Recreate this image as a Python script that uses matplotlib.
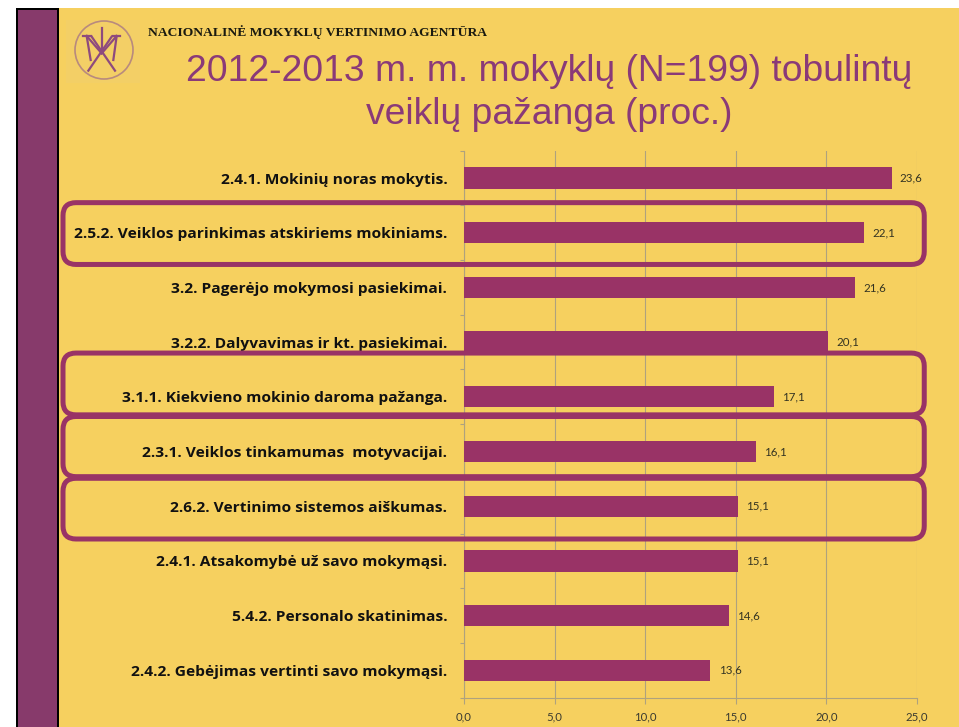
import numpy as np
import matplotlib.pyplot as plt
from matplotlib.patches import Rectangle, FancyBboxPatch, Circle
from matplotlib.lines import Line2D
from matplotlib.transforms import IdentityTransform
from matplotlib.ticker import FuncFormatter

# chart data
labels = [
    "2.4.1. Mokinių noras mokytis.",
    "2.5.2. Veiklos parinkimas atskiriems mokiniams.",
    "3.2. Pagerėjo mokymosi pasiekimai.",
    "3.2.2. Dalyvavimas ir kt. pasiekimai.",
    "3.1.1. Kiekvieno mokinio daroma pažanga.",
    "2.3.1. Veiklos tinkamumas  motyvacijai.",
    "2.6.2. Vertinimo sistemos aiškumas.",
    "2.4.1. Atsakomybė už savo mokymąsi.",
    "5.4.2. Personalo skatinimas.",
    "2.4.2. Gebėjimas vertinti savo mokymąsi.",
]
values = [23.6, 22.1, 21.6, 20.1, 17.1, 16.1, 15.1, 15.1, 14.6, 13.6]
x_ticks = [0, 5, 10, 15, 20, 25]
highlighted = [1, 4, 5, 6]

title_1 = "2012-2013 m. m. mokyklų (N=199) tobulintų"
title_2 = "veiklų pažanga (proc.)"
header = "NACIONALINĖ MOKYKLŲ VERTINIMO AGENTŪRA"

W, H = 959, 727
BG = "#f6d05f"
PURPLE = "#993366"
BAND = "#873a6b"
TITLE_C = "#8a3a78"
GRID = "#aea27e"

fig = plt.figure(figsize=(W / 100, H / 100), dpi=100)
fig.patch.set_facecolor("white")


def fx(px):
    return px / W


def fy(py):
    return 1 - py / H


# slide background, left band
fig.add_artist(Rectangle((fx(16), 0), fx(W - 16), fy(8), transform=fig.transFigure,
                         facecolor=BG, edgecolor="none", zorder=0))
fig.add_artist(Rectangle((fx(16), 0), fx(43), fy(8), transform=fig.transFigure,
                         facecolor="black", edgecolor="none", zorder=0.5))
fig.add_artist(Rectangle((fx(18), 0), fx(39), fy(10), transform=fig.transFigure,
                         facecolor=BAND, edgecolor="none", zorder=0.6))

# logo
lx, ly = 60, 10
fig.add_artist(Rectangle((66, H - 83), 74, 63, transform=IdentityTransform(),
                         facecolor="#f3cf66", edgecolor="none", zorder=1))
fig.add_artist(Circle((104, H - 50), 29, transform=IdentityTransform(), facecolor="none",
                      edgecolor="#b88a7e", lw=1.2, zorder=2))
logo_lines = [
    ((80, 78), (125, 130)), ((170, 78), (125, 130)),
    ((80, 78), (92, 150)), ((170, 78), (160, 150)),
    ((95, 80), (165, 182)), ((155, 80), (85, 182)),
    ((125, 55), (125, 130)), ((70, 78), (92, 78)), ((158, 78), (180, 78)),
]
for (x0, y0), (x1, y1) in logo_lines:
    fig.add_artist(Line2D([lx + x0 / 3, lx + x1 / 3], [H - (ly + y0 / 3), H - (ly + y1 / 3)],
                          transform=IdentityTransform(), color="#8e4a7e", lw=1.6, zorder=2))

fig.text(fx(148), fy(32), header, fontsize=9.7, family="Liberation Serif", weight="bold",
         color="#1a1a10", va="center", ha="left")
fig.text(fx(549), fy(81), title_1, fontsize=26.8, family="Liberation Sans", color=TITLE_C,
         ha="center", va="baseline")
fig.text(fx(549), fy(124), title_2, fontsize=26.8, family="Liberation Sans", color=TITLE_C,
         ha="center", va="baseline")

# bar chart
ax = fig.add_axes([fx(464), fy(697.6), fx(917 - 464), fy(150.7) - fy(697.6)])
ax.set_facecolor("none")
y = np.arange(len(labels))
ax.barh(y, values, height=0.39, color=PURPLE, zorder=3)
for yi, v in zip(y, values):
    ax.text(v + 0.45, yi, f"{v:.1f}".replace(".", ","), va="center", ha="left",
            fontsize=8.3, family="Lato", color="#333322")

ax.set_xlim(0, 25)
ax.set_ylim(len(labels) - 0.5, -0.5)
ax.set_xticks(x_ticks)
ax.xaxis.set_major_formatter(FuncFormatter(lambda v, p: f"{v:.1f}".replace(".", ",")))
ax.set_yticks(y)
ax.set_yticklabels(labels, family="Open Sans", weight="bold", fontsize=11.15, color="#111111")
ax.set_yticks(np.arange(len(labels) + 1) - 0.5, minor=True)
ax.tick_params(axis="y", which="major", length=0, pad=12)
ax.tick_params(axis="y", which="minor", length=3, color=GRID, width=0.8)
ax.tick_params(axis="x", length=4, color=GRID, width=0.8, pad=6, labelsize=8.2,
               labelcolor="#3a3a30")
for lab in ax.get_xticklabels():
    lab.set_family("Lato")
ax.grid(axis="x", color=GRID, lw=0.8, zorder=0)
ax.set_axisbelow(True)
for s in ["top", "right"]:
    ax.spines[s].set_visible(False)
for s in ["left", "bottom"]:
    ax.spines[s].set_color(GRID)
    ax.spines[s].set_linewidth(0.8)

# highlight boxes around selected rows (offsets above / below the row)
box_ext = {1: (0.55, 0.58), 4: (0.8, 0.33), 5: (0.64, 0.46), 6: (0.51, 0.6)}
for i in highlighted:
    up, down = box_ext[i]
    _, top = ax.transData.transform((0, i - up))
    xr, bot = ax.transData.transform((25.4, i + down))
    fig.add_artist(FancyBboxPatch((63, bot), xr - 63, top - bot,
                                  boxstyle="round,pad=0,rounding_size=13",
                                  transform=IdentityTransform(), facecolor="none",
                                  edgecolor=PURPLE, lw=3.6, zorder=4))

fig.savefig("out.png", dpi=100, facecolor=fig.get_facecolor())
